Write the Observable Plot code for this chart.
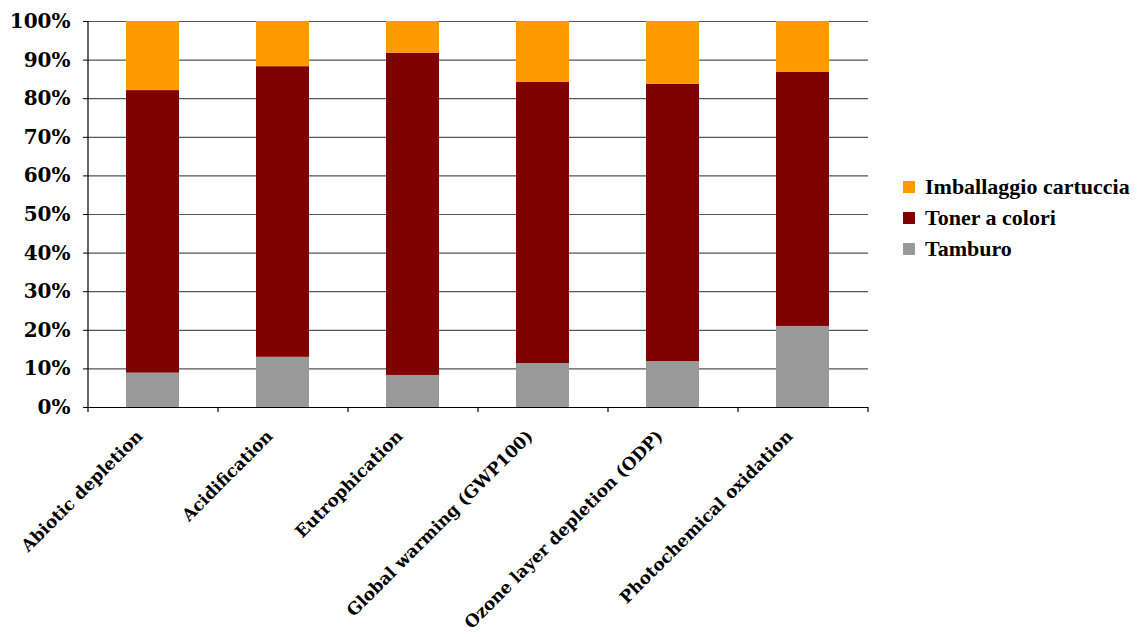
<!DOCTYPE html>
<html>
<head>
<meta charset="utf-8">
<script src="https://cdn.jsdelivr.net/npm/d3@7"></script>
<script src="https://cdn.jsdelivr.net/npm/@observablehq/plot@0.6"></script>
<style>
  html, body { margin: 0; padding: 0; background: #fff; }
  #wrap { position: relative; width: 1137px; height: 637px; overflow: hidden; }
  #legend { position: absolute; left: 903px; top: 171px; font-family: "Liberation Serif", serif; font-weight: bold; font-size: 22px; color: #000; }
  #legend .row { display: flex; align-items: center; height: 31px; white-space: nowrap; }
  #legend .sw { width: 12px; height: 12px; margin-right: 10px; flex: none; }
</style>
</head>
<body>
<div id="wrap"><div id="legend"></div></div>
<script>
const categories = ["Abiotic depletion", "Acidification", "Eutrophication", "Global warming (GWP100)", "Ozone layer depletion (ODP)", "Photochemical oxidation"];
const seriesNames = ["Imballaggio cartuccia", "Toner a colori", "Tamburo"];
const seriesColors = ["#FF9900", "#800000", "#999999"];
const tamburo = [0.089, 0.130, 0.083, 0.114, 0.119, 0.210];
const toner = [0.732, 0.753, 0.835, 0.728, 0.718, 0.658];
const imballaggio = [0.179, 0.117, 0.082, 0.158, 0.163, 0.132];
const yTicks = [0, 0.1, 0.2, 0.3, 0.4, 0.5, 0.6, 0.7, 0.8, 0.9, 1.0];

const valuesBySeries = {"Imballaggio cartuccia": imballaggio, "Toner a colori": toner, "Tamburo": tamburo};
const stackOrder = ["Tamburo", "Toner a colori", "Imballaggio cartuccia"];
const table = [];
categories.forEach((c, i) => {
  stackOrder.forEach(s => table.push({category: c, series: s, value: valuesBySeries[s][i]}));
});

const W = 1137, H = 637, mL = 88, mR = 269, mT = 21, mB = 230;
const step = (W - mL - mR) / categories.length;
const plotH = H - mT - mB;

const chart = Plot.plot({
  width: W, height: H,
  marginLeft: mL, marginRight: mR, marginTop: mT, marginBottom: mB,
  style: {fontFamily: "'DejaVu Serif', serif", fontWeight: "bold", background: "transparent", color: "#000"},
  x: {domain: categories, paddingInner: 0.59, paddingOuter: 0.295, label: null},
  y: {domain: [0, 1], label: null},
  color: {domain: seriesNames, range: seriesColors},
  marks: [
    Plot.ruleY(yTicks.slice(1), {stroke: "#555", strokeWidth: 1.2}),
    Plot.barY(table, {x: "category", y: "value", fill: "series", order: stackOrder}),
    Plot.ruleY([0], {stroke: "#000", strokeWidth: 1.2}),
    Plot.ruleX([categories[0]], {x: d => d, dx: -step / 2, insetBottom: -5, stroke: "#000", strokeWidth: 1.2}),
    Plot.ruleX(categories.slice(1), {x: d => d, dx: -step / 2, insetTop: plotH, insetBottom: -5, stroke: "#000", strokeWidth: 1.2}),
    Plot.ruleX([categories[categories.length - 1]], {x: d => d, dx: step / 2, insetTop: plotH, insetBottom: -5, stroke: "#000", strokeWidth: 1.2}),
    Plot.axisY({ticks: yTicks, tickFormat: d => Math.round(d * 100) + "%", tickSize: 5, tickPadding: 13, fontSize: 20, fontWeight: "bold"}),
    Plot.axisX({tickRotate: -45, tickSize: 0, tickPadding: 26, dx: -13, fontSize: 17, fontWeight: "bold"})
  ]
});
document.getElementById("wrap").prepend(chart);

const legend = document.getElementById("legend");
seriesNames.forEach((s, i) => {
  const row = document.createElement("div");
  row.className = "row";
  const sw = document.createElement("span");
  sw.className = "sw";
  sw.style.background = seriesColors[i];
  const t = document.createElement("span");
  t.textContent = s;
  row.append(sw, t);
  legend.append(row);
});
</script>
</body>
</html>
